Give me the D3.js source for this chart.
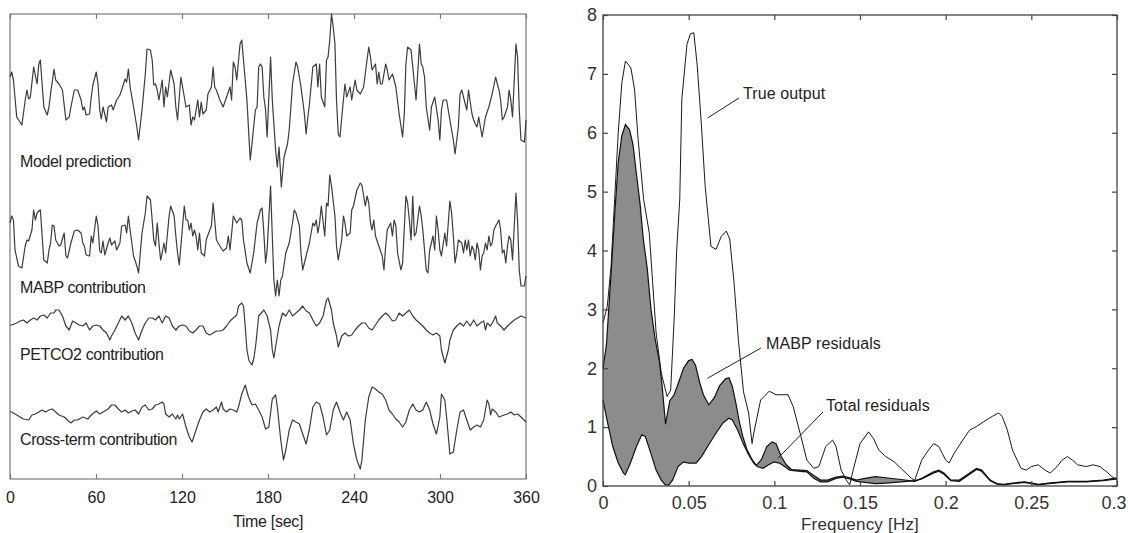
<!DOCTYPE html>
<html><head><meta charset="utf-8">
<script src="https://cdn.jsdelivr.net/npm/d3@7"></script>
<style>body{margin:0;background:#fff}svg{display:block}</style>
</head><body>
<svg id="c" width="1128" height="533"></svg>
<script>
// ---------------- DATA ----------------
const timeTicks = [0, 60, 120, 180, 240, 300, 360];
const freqTicks = [0, 0.05, 0.1, 0.15, 0.2, 0.25, 0.3];
const powerTicks = [0, 1, 2, 3, 4, 5, 6, 7, 8];
const traceLabels = ["Model prediction", "MABP contribution", "PETCO2 contribution", "Cross-term contribution"];
const timeAxisTitle = "Time [sec]";
const freqAxisTitle = "Frequency [Hz]";
const annotationLabels = ["True output", "MABP residuals", "Total residuals"];

// [time (s), amplitude (a.u.)]
const modelPrediction = [[0,20],[1.2,25],[2.4,17],[4.7,-20],[8.3,-28],[10.6,-3],[11.8,7],[13,-2],[14.2,0],[16.5,30],[18.9,13],[20.1,33],[21.2,37],[22.4,13],[23.6,-10],[26,-18],[27.2,-10],[28.3,3],[30.7,28],[31.9,17],[34.2,13],[36.6,7],[39,-23],[41.3,-20],[42.5,-10],[44.9,7],[47.2,7],[49.6,-3],[50.8,-13],[51.9,-10],[53.1,-18],[55.5,-17],[56.7,0],[57.8,12],[60.2,25],[61.4,13],[62.6,-13],[63.7,-22],[64.9,-10],[66.1,-17],[67.3,-25],[68.5,-10],[70.8,-8],[72,-13],[74.4,-3],[76.7,2],[77.9,7],[80.3,18],[81.4,15],[82.6,28],[83.8,10],[86.2,-10],[88.5,-30],[89.7,-43],[92.1,-13],[94.4,23],[95.6,48],[98,47],[99.2,37],[100.3,12],[101.5,13],[102.7,7],[103.9,-3],[106.2,17],[107.4,-10],[108.6,10],[109.8,0],[112.1,27],[114.5,13],[115.7,-10],[116.9,-23],[119.2,20],[121.6,0],[122.8,-10],[125.1,-8],[126.3,-28],[127.5,-20],[128.7,-23],[131,-3],[132.2,-20],[133.4,-5],[134.6,-17],[136.9,-13],[138.1,3],[140.5,10],[141.7,30],[142.8,10],[144,7],[146.4,-3],[148.7,-10],[151.1,0],[153.5,10],[154.6,-3],[155.8,35],[157,30],[158.2,17],[160.5,53],[161.7,57],[162.9,37],[165.3,-3],[167.6,-63],[168.8,-47],[171.2,-13],[172.4,-10],[173.5,30],[174.7,33],[175.9,30],[177.1,0],[178.3,-13],[179.4,-40],[181.8,40],[183,-3],[185.3,-53],[186.5,-70],[187.7,-50],[189.3,-90],[191.2,-60],[193.6,-47],[194.8,-33],[197.1,13],[199.5,35],[200.7,30],[203,10],[204.2,-3],[205.4,-17],[206.6,-37],[207.8,-20],[208.9,-7],[211.3,30],[213.7,33],[214.8,10],[216,33],[217.2,0],[219.6,-10],[220.8,37],[221.9,40],[223.1,57],[224.3,83],[225.5,70],[226.7,53],[227.8,-3],[229,-37],[230.2,-40],[232.6,-3],[233.7,13],[234.9,0],[237.3,10],[238.4,-3],[240.8,17],[242,7],[244.4,3],[246.7,10],[249.1,37],[250.3,50],[251.5,40],[252.6,27],[255,33],[256.2,13],[257.3,25],[258.5,13],[259.7,13],[262.1,33],[263.2,27],[264.4,17],[266.8,23],[268,17],[269.2,10],[271.5,-17],[273.9,-40],[275.1,-17],[276.2,33],[277.4,50],[279.8,47],[281,30],[283.3,-3],[285.7,53],[286.9,33],[288,30],[289.2,20],[290.4,-10],[292.8,-33],[294,-10],[296.3,0],[298.7,-23],[299.9,-43],[301,-13],[302.2,-3],[304.6,-3],[306.9,-23],[309.3,-43],[310.5,-57],[312.8,-30],[314,3],[315.2,7],[317.6,-7],[318.7,-13],[319.9,7],[322.3,-17],[323.5,-23],[324.6,-27],[325.8,-30],[327,-20],[328.2,-30],[329.4,-40],[331.7,-20],[334.1,-10],[335.3,-3],[336.4,3],[338.8,20],[340,13],[341.2,7],[342.3,-3],[343.5,-23],[344.7,-20],[347.1,-10],[348.2,7],[349.4,-3],[350.6,-20],[353,53],[354.1,40],[355.3,-13],[356.5,-43],[358.9,-45],[360,-23]];

const mabpContribution = [[0,20],[1.2,27],[2.4,23],[3.5,-7],[5.9,-23],[8.3,-25],[10.6,-3],[11.8,3],[13,2],[15.3,13],[16.5,33],[17.7,23],[18.9,30],[20.1,32],[21.2,33],[22.4,7],[23.6,-17],[26,-20],[27.2,-7],[28.3,0],[29.5,18],[30.7,17],[31.9,3],[34.2,-3],[35.4,-2],[37.8,10],[39,-13],[40.1,-15],[42.5,0],[44.9,12],[47.2,13],[49.6,10],[50.8,0],[51.9,-3],[53.1,-12],[55.5,-13],[56.7,7],[57.8,0],[60.2,27],[61.4,17],[62.6,-8],[63.7,-10],[64.9,2],[66.1,-12],[68.5,0],[69.7,5],[70.8,-2],[73.2,2],[74.4,-7],[76.7,0],[77.9,17],[80.3,18],[81.4,10],[82.6,27],[83.8,13],[86.2,-13],[88.5,-23],[89.7,-30],[92.1,10],[94.4,30],[95.6,47],[98,43],[99.2,23],[100.3,3],[101.5,-3],[102.7,20],[103.9,0],[105.1,-17],[106.2,-10],[107.4,0],[108.6,-10],[111,27],[112.1,37],[114.5,27],[115.7,7],[116.9,-10],[118.1,-22],[120.4,17],[121.6,37],[122.8,23],[124,23],[125.1,13],[126.3,20],[127.5,7],[128.7,13],[129.8,7],[131,-7],[132.2,10],[133.4,-10],[135.7,-13],[136.9,3],[138.1,8],[140.5,17],[141.7,40],[142.8,23],[144,3],[146.4,-3],[148.7,-8],[151.1,-5],[152.3,7],[153.5,-7],[155.8,27],[158.2,20],[160.5,25],[161.7,23],[162.9,3],[165.3,-20],[167.6,-30],[170,-10],[172.4,20],[174.7,33],[175.9,35],[177.1,10],[178.3,-20],[179.4,-7],[181.8,57],[183,7],[184.1,-37],[185.3,-53],[186.5,-37],[187.7,-53],[188.9,-37],[190.1,-33],[192.4,-10],[194.8,0],[197.1,20],[198.3,33],[199.5,30],[201.9,17],[203,-10],[204.2,-27],[206.6,-13],[208.9,0],[211.3,20],[212.5,17],[213.7,23],[214.8,10],[216,20],[217.2,37],[219.6,7],[220.8,40],[221.9,37],[223.1,68],[224.3,57],[226.7,27],[227.8,-3],[229,-17],[231.4,3],[232.6,27],[233.7,20],[234.9,7],[237.3,10],[238.4,33],[239.6,37],[242,53],[244.4,60],[245.5,58],[247.9,37],[249.1,47],[250.3,40],[251.5,20],[252.6,13],[253.8,23],[255,7],[257.3,-3],[259.7,-13],[260.9,-27],[262.1,-3],[263.2,13],[265.6,20],[266.8,7],[268,23],[269.2,17],[270.4,-10],[272.7,-27],[273.9,-20],[276.2,47],[277.4,40],[278.6,23],[279.8,3],[281,47],[282.1,7],[283.3,10],[285.7,37],[286.9,27],[288,13],[290.4,-27],[291.6,-30],[292.8,-7],[295.1,7],[296.3,-7],[297.5,27],[298.7,13],[299.9,-7],[301,-13],[303.4,10],[304.6,-3],[306.9,42],[308.1,30],[309.3,7],[310.5,-20],[311.7,-10],[312.8,3],[315.2,0],[316.4,-10],[317.6,3],[318.7,-7],[319.9,3],[321.1,-13],[322.3,-3],[323.5,-7],[324.6,-17],[325.8,0],[327,-7],[328.2,-27],[329.4,-13],[330.5,-10],[331.7,0],[332.9,-7],[334.1,7],[335.3,-3],[336.4,0],[337.6,13],[338.8,17],[340,20],[341.2,23],[342.3,13],[343.5,-10],[344.7,-7],[345.9,-20],[347.1,-3],[348.2,7],[349.4,3],[350.6,-17],[353,50],[354.1,23],[355.3,-27],[356.5,-43],[358.9,-43],[360,-33]];

const petco2Contribution = [[0,-2],[1.2,-2],[4.7,0],[7.1,2],[9.4,3],[11.8,0],[14.2,3],[16.5,5],[18.9,3],[21.2,7],[23.6,8],[26,5],[28.3,10],[30.7,10],[31.9,13],[34.2,13],[36.6,7],[39,-3],[41.3,-7],[43.7,2],[46,0],[48.4,-2],[50.8,-3],[53.1,0],[55.5,-7],[57.8,-3],[60.2,-2],[62.6,-3],[64.9,-7],[67.3,-10],[69.7,-17],[70.8,-13],[73.2,-7],[75.6,0],[77.9,7],[80.3,3],[82.6,7],[85,0],[87.3,-10],[89.7,-17],[92.1,-7],[94.4,0],[96.8,5],[99.2,5],[101.5,3],[103.9,7],[106.2,0],[108.6,7],[111,5],[113.3,-3],[115.7,-7],[118.1,-3],[120.4,-2],[122.8,-3],[125.1,-8],[127.5,-10],[129.8,-7],[132.2,-3],[134.6,-3],[136.9,-10],[139.3,-12],[141.7,-10],[144,-8],[146.4,-8],[148.7,-7],[151.1,-3],[153.5,2],[155.8,5],[158.2,8],[159.4,17],[161.7,20],[162.9,17],[164.1,-3],[165.3,-27],[166.8,-38],[168.8,-42],[170.2,-35],[171.6,-20],[173.5,7],[177.1,13],[179.4,7],[181.8,-7],[183,-27],[184.1,-35],[185.3,-24],[187.7,-3],[190.1,10],[192.4,7],[194.8,13],[197.1,7],[199.5,10],[201.9,13],[204.2,17],[206.6,12],[208.9,10],[211.3,3],[213.7,-3],[216,0],[218.4,7],[220.8,23],[221.9,25],[224.3,13],[225.5,0],[227.8,-13],[229,-24],[231.4,-13],[233.7,-10],[236.1,-13],[238.4,-12],[240.8,-7],[243.2,-3],[245.5,0],[247.9,0],[250.3,-5],[252.6,-7],[255,-2],[257.3,3],[259.7,7],[262.1,10],[264.4,7],[266.8,2],[269.2,3],[271.5,10],[273.9,7],[276.2,10],[278.6,13],[281,7],[283.3,3],[285.7,0],[288,-3],[290.4,-7],[292.8,-10],[295.1,-12],[297.5,-10],[299.9,-13],[301,-27],[303.4,-40],[305.8,-27],[306.9,-17],[309.3,-7],[311.7,-3],[314,0],[316.4,-3],[318.7,2],[321.1,-3],[323.5,3],[325.8,-3],[328.2,0],[330.5,2],[331.7,-7],[332.9,0],[335.3,-3],[337.6,3],[338.8,7],[340,0],[342.3,-3],[344.7,-7],[347.1,-3],[349.4,0],[351.8,3],[354.1,5],[356.5,7],[360,5]];

const crossTermContribution = [[0,0],[1.2,0],[4.7,-3],[7.1,-5],[9.4,-7],[13,-8],[15.3,-3],[17.7,-2],[20.1,0],[22.4,2],[24.8,0],[27.2,2],[29.5,3],[31.9,0],[34.2,-3],[37.8,-5],[40.1,-8],[42.5,-11],[44.9,-8],[47.2,-8],[50.8,-5],[54.3,-7],[56.7,-3],[60.2,1],[62.6,-2],[64.9,0],[68.5,3],[70.8,7],[73.2,7],[75.6,3],[77.9,0],[80.3,2],[82.6,-1],[85,1],[87.3,2],[89.7,-2],[92.1,5],[94.4,7],[96.8,2],[99.2,3],[101.5,7],[103.9,8],[106.2,10],[107.4,8],[108.6,-2],[111,-5],[113.3,-2],[115.7,-7],[116.9,-3],[118.1,-7],[120.4,-2],[122.8,-15],[125.1,-25],[127,-30],[129.8,-18],[132.2,-8],[134.6,0],[136.9,3],[139.3,0],[141.7,2],[144,5],[145.2,0],[147.6,10],[148.7,3],[151.1,0],[153.5,3],[155.8,2],[158.2,0],[159.4,5],[161.7,18],[164.1,27],[166.4,15],[168.8,7],[171.2,8],[173.5,2],[175.9,-5],[178.3,-17],[180.6,-15],[183,13],[185.3,17],[186.5,5],[188.9,-28],[190.8,-48],[192.4,-38],[194.8,-18],[197.1,-8],[199.5,-10],[201.9,-12],[204.2,-22],[206.6,-32],[208.9,-17],[211.3,5],[213.7,10],[216,8],[218.4,-5],[220.8,-23],[223.1,-18],[225.5,2],[227.8,10],[230.2,0],[232.6,-8],[234.9,0],[237.3,-8],[239.6,-32],[242,-48],[244.4,-57],[245.5,-48],[247.9,-8],[250.3,15],[252.6,25],[255,23],[257.3,20],[259.7,18],[262.1,12],[264.4,2],[266.8,-2],[269.2,-7],[271.5,-10],[273.9,-15],[276.2,-10],[278.6,2],[281,8],[283.3,2],[285.7,0],[288,2],[290.4,10],[292.8,2],[295.1,-12],[297.5,-22],[299.9,-5],[301,18],[303.4,12],[304.6,-5],[306.9,-42],[309.3,-40],[311.7,-18],[314,0],[316.4,2],[318.7,-8],[321.1,-18],[323.5,-15],[325.8,-13],[328.2,-15],[330.5,-8],[332.9,12],[334.1,8],[335.3,-3],[336.4,3],[338.8,0],[341.2,-5],[344.7,-3],[347.1,-2],[349.4,0],[351.8,-3],[354.1,-2],[356.5,-5],[360,-10]];

// [frequency (Hz), power]
const trueOutput = [[0,2.77],[0.0025,3.05],[0.0047,3.73],[0.0068,4.87],[0.0089,6.0],[0.011,6.85],[0.0131,7.22],[0.0163,7.1],[0.0184,6.74],[0.0205,5.89],[0.0237,4.87],[0.027,4.3],[0.029,3.45],[0.031,2.6],[0.034,1.92],[0.0374,1.52],[0.0395,1.63],[0.0416,2.88],[0.043,4.0],[0.0448,4.87],[0.046,6.57],[0.049,7.5],[0.051,7.68],[0.053,7.7],[0.055,7.14],[0.0575,6.1],[0.0596,5.1],[0.063,4.07],[0.066,4.02],[0.069,4.24],[0.072,4.33],[0.074,4.19],[0.0765,3.45],[0.079,2.49],[0.082,1.6],[0.085,1.24],[0.087,0.72],[0.088,0.9],[0.092,1.46],[0.097,1.61],[0.101,1.55],[0.108,1.55],[0.111,1.35],[0.115,0.9],[0.119,0.44],[0.123,0.3],[0.126,0.33],[0.13,0.67],[0.134,0.78],[0.136,0.67],[0.139,0.27],[0.142,0.1],[0.144,0.02],[0.146,0.27],[0.15,0.72],[0.155,0.92],[0.158,0.8],[0.161,0.61],[0.165,0.5],[0.17,0.41],[0.175,0.27],[0.18,0.13],[0.182,0.1],[0.186,0.44],[0.19,0.61],[0.193,0.72],[0.196,0.67],[0.2,0.44],[0.202,0.39],[0.205,0.56],[0.21,0.78],[0.214,0.95],[0.218,1.01],[0.222,1.09],[0.227,1.18],[0.231,1.24],[0.233,1.18],[0.236,0.95],[0.239,0.61],[0.244,0.3],[0.247,0.27],[0.25,0.33],[0.254,0.36],[0.258,0.27],[0.261,0.22],[0.265,0.33],[0.268,0.44],[0.271,0.5],[0.274,0.44],[0.277,0.36],[0.282,0.33],[0.286,0.36],[0.29,0.33],[0.294,0.24],[0.297,0.16],[0.3,0.1]];

const mabpResiduals = [[0,2.0],[0.002,2.4],[0.0047,3.6],[0.0068,4.6],[0.0089,5.5],[0.011,5.95],[0.0131,6.14],[0.0155,6.05],[0.0175,5.8],[0.0195,5.3],[0.0216,4.8],[0.0235,4.2],[0.0258,3.7],[0.028,3.0],[0.0304,2.5],[0.033,2.1],[0.0345,1.7],[0.0365,1.05],[0.039,1.45],[0.0415,1.55],[0.044,1.75],[0.047,2.0],[0.05,2.13],[0.052,2.15],[0.054,2.05],[0.0565,1.75],[0.0586,1.55],[0.0617,1.38],[0.065,1.5],[0.068,1.7],[0.0715,1.82],[0.0735,1.84],[0.0755,1.69],[0.0776,1.4],[0.0795,1.1],[0.0815,0.85],[0.084,0.62],[0.087,0.45],[0.0895,0.35],[0.0925,0.45],[0.0956,0.67],[0.0987,0.75],[0.101,0.72],[0.104,0.5],[0.107,0.36],[0.11,0.28],[0.115,0.27],[0.119,0.26],[0.123,0.18],[0.127,0.1],[0.131,0.1],[0.136,0.15],[0.14,0.17],[0.144,0.14],[0.148,0.1],[0.153,0.13],[0.159,0.16],[0.165,0.14],[0.174,0.11],[0.182,0.08],[0.186,0.13],[0.193,0.24],[0.196,0.27],[0.199,0.22],[0.203,0.1],[0.208,0.1],[0.214,0.22],[0.218,0.3],[0.221,0.27],[0.226,0.1],[0.23,0.04],[0.234,0.03],[0.239,0.05],[0.246,0.07],[0.25,0.05],[0.254,0.03],[0.26,0.05],[0.271,0.08],[0.282,0.08],[0.292,0.1],[0.3,0.14]];

const totalResiduals = [[0,1.46],[0.0025,1.1],[0.0057,0.67],[0.0089,0.39],[0.012,0.22],[0.013,0.19],[0.016,0.39],[0.0195,0.67],[0.0226,0.87],[0.0247,0.84],[0.028,0.55],[0.031,0.27],[0.034,0.1],[0.0364,0.02],[0.0385,0.02],[0.0406,0.1],[0.0438,0.33],[0.047,0.41],[0.05,0.39],[0.0543,0.39],[0.0575,0.5],[0.0617,0.7],[0.066,0.9],[0.07,1.07],[0.0734,1.15],[0.0755,1.12],[0.0786,0.95],[0.0818,0.72],[0.085,0.53],[0.088,0.39],[0.09,0.33],[0.0934,0.3],[0.0966,0.36],[0.0998,0.41],[0.103,0.39],[0.106,0.33],[0.109,0.27],[0.115,0.25],[0.119,0.24],[0.123,0.13],[0.127,0.07],[0.131,0.07],[0.136,0.13],[0.14,0.15],[0.144,0.12],[0.148,0.08],[0.153,0.06],[0.159,0.04],[0.165,0.05],[0.174,0.07],[0.182,0.09],[0.186,0.12],[0.193,0.22],[0.196,0.25],[0.199,0.2],[0.203,0.09],[0.208,0.08],[0.214,0.2],[0.218,0.28],[0.221,0.25],[0.226,0.09],[0.23,0.03],[0.234,0.02],[0.239,0.04],[0.246,0.06],[0.25,0.04],[0.254,0.02],[0.26,0.04],[0.271,0.07],[0.282,0.07],[0.292,0.09],[0.3,0.12]];

// ---------------- LAYOUT ----------------
const svg = d3.select("#c");
const L = {x0: 10, x1: 526, y0: 14, y1: 479};
const R = {x0: 603, x1: 1117, y0: 15, y1: 486};
const leftFont = "'Liberation Sans', Arial, sans-serif";
const rightFont = "'Liberation Sans Narrow', 'Liberation Sans', Arial, sans-serif";

// ---- left panel ----
const xT = d3.scaleLinear().domain([0, 360]).range([L.x0, L.x1]);
const yT = d3.scaleLinear().domain([0, L.y1 - L.y0]).range([L.y1, L.y0]);
const traces = [modelPrediction, mabpContribution, petco2Contribution, crossTermContribution];
const traceOffsets = [382, 236, 156, 67];
const labelY = [167, 293, 360, 445];

const lp = svg.append("g");
lp.append("rect").attr("x", L.x0).attr("y", L.y0).attr("width", L.x1 - L.x0).attr("height", L.y1 - L.y0)
  .attr("fill", "#fff").attr("stroke", "#7a7a7a").attr("stroke-width", 1.2);

traces.forEach((tr, i) => {
  const line = d3.line().x(d => xT(d[0])).y(d => yT(traceOffsets[i] + d[1]));
  lp.append("path").attr("d", line(tr)).attr("fill", "none")
    .attr("stroke", "#3c3c3c").attr("stroke-width", 1.2).attr("stroke-linejoin", "round");
  lp.append("text").attr("x", 20).attr("y", labelY[i]).text(traceLabels[i])
    .attr("font-family", leftFont).attr("font-size", 16).attr("fill", "#222")
    .attr("letter-spacing", -0.4);
});

const lBottom = lp.append("g").attr("transform", `translate(0,${L.y1})`)
  .call(d3.axisBottom(xT).tickValues(timeTicks).tickSize(-5).tickPadding(13).tickFormat(d3.format("d")));
const lTop = lp.append("g").attr("transform", `translate(0,${L.y0})`)
  .call(d3.axisTop(xT).tickValues(timeTicks).tickSize(-5).tickFormat(""));
[lBottom, lTop].forEach(g => {
  g.select(".domain").remove();
  g.selectAll("line").attr("stroke", "#7a7a7a").attr("stroke-width", 1.2);
  g.selectAll("text").attr("font-family", leftFont).attr("font-size", 16).attr("fill", "#222");
});
lp.append("text").attr("x", (L.x0 + L.x1) / 2).attr("y", 527).attr("text-anchor", "middle")
  .text(timeAxisTitle).attr("font-family", leftFont).attr("font-size", 16).attr("fill", "#222")
  .attr("letter-spacing", -0.3);

// ---- right panel ----
const xF = d3.scaleLinear().domain([0, 0.3]).range([R.x0, R.x1]);
const yP = d3.scaleLinear().domain([0, 8]).range([R.y1, R.y0]);
const rp = svg.append("g");

const lineF = d3.line().x(d => xF(d[0])).y(d => yP(d[1]));
// gray band between the residual curves
rp.append("path").attr("d", lineF(mabpResiduals.concat(totalResiduals.slice().reverse())) + "Z")
  .attr("fill", "#8c8c8c").attr("fill-rule", "nonzero").attr("stroke", "none");
rp.append("path").attr("d", lineF(mabpResiduals)).attr("fill", "none").attr("stroke", "#111").attr("stroke-width", 1.2);
rp.append("path").attr("d", lineF(totalResiduals)).attr("fill", "none").attr("stroke", "#111").attr("stroke-width", 1.2);
rp.append("path").attr("d", lineF(trueOutput)).attr("fill", "none").attr("stroke", "#1a1a1a").attr("stroke-width", 1);

rp.append("rect").attr("x", R.x0).attr("y", R.y0).attr("width", R.x1 - R.x0).attr("height", R.y1 - R.y0)
  .attr("fill", "none").attr("stroke", "#444").attr("stroke-width", 1.3);

const ax = [
  rp.append("g").attr("transform", `translate(0,${R.y1})`)
    .call(d3.axisBottom(xF).tickValues(freqTicks).tickSize(-5).tickPadding(10).tickFormat(d => String(d))),
  rp.append("g").attr("transform", `translate(0,${R.y0})`)
    .call(d3.axisTop(xF).tickValues(freqTicks).tickSize(-5).tickFormat("")),
  rp.append("g").attr("transform", `translate(${R.x0},0)`)
    .call(d3.axisLeft(yP).tickValues(powerTicks).tickSize(-5).tickPadding(6).tickFormat(d3.format("d"))),
  rp.append("g").attr("transform", `translate(${R.x1},0)`)
    .call(d3.axisRight(yP).tickValues(powerTicks).tickSize(-5).tickFormat(""))
];
ax.forEach(g => {
  g.select(".domain").remove();
  g.selectAll("line").attr("stroke", "#444").attr("stroke-width", 1.2);
  g.selectAll("text").attr("font-family", rightFont).attr("font-size", 18).attr("fill", "#333");
});
// last x label sits at the right edge, as in the reference
rp.select("g").selectAll(".tick text").filter(d => d === 0.3).attr("dx", "-0.2em");
rp.append("text").attr("x", xF(0.15)).attr("y", 530).attr("text-anchor", "middle")
  .text(freqAxisTitle).attr("font-family", rightFont).attr("font-size", 17).attr("fill", "#333")
  .attr("letter-spacing", 0.2);

// annotations: line from a data point (f, value) to the text
const ann = [
  {t: annotationLabels[0], tx: 743, ty: 93, p: [0.061, 6.25], q: [739, 98]},
  {t: annotationLabels[1], tx: 766, ty: 343, p: [0.061, 1.83], q: [761, 348]},
  {t: annotationLabels[2], tx: 826, ty: 405, p: [0.102, 0.47], q: [823, 412]}
];
ann.forEach(a => {
  rp.append("line").attr("x1", xF(a.p[0])).attr("y1", yP(a.p[1])).attr("x2", a.q[0]).attr("y2", a.q[1])
    .attr("stroke", "#222").attr("stroke-width", 1);
  rp.append("text").attr("x", a.tx).attr("y", a.ty).attr("dy", "0.35em").text(a.t)
    .attr("font-family", rightFont).attr("font-size", 16).attr("fill", "#222").attr("letter-spacing", 0.1);
});
</script>
</body></html>
